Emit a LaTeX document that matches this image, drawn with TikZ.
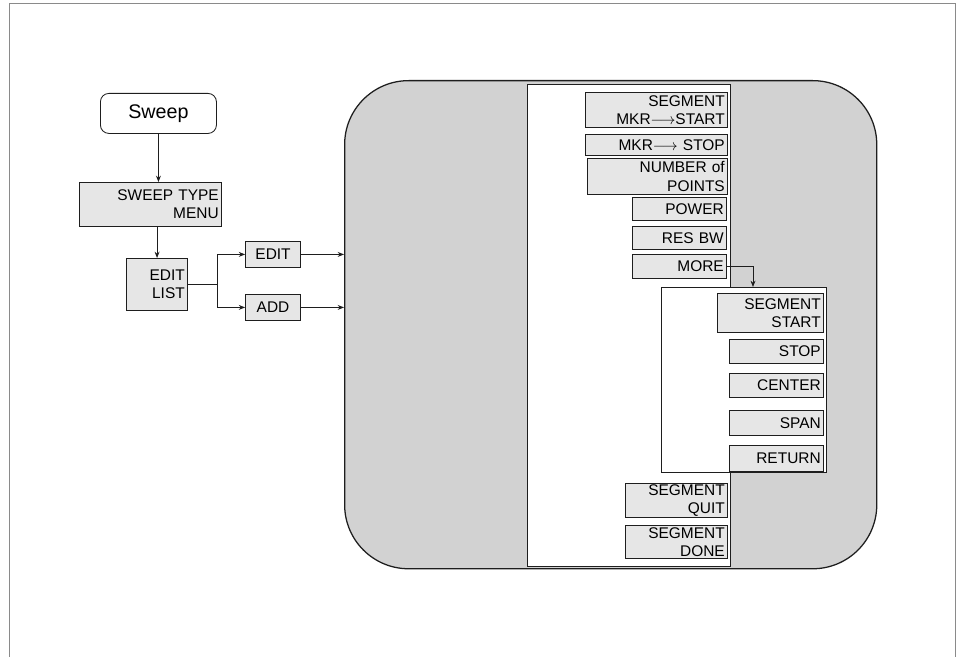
\documentclass[tikz,border=0pt]{standalone}
\usepackage{fontspec}
\setmainfont{Liberation Sans}
\usetikzlibrary{arrows.meta}
\definecolor{sline}{HTML}{1E1E1E}
\definecolor{sframe}{HTML}{8A8A8A}
\definecolor{sshade}{HTML}{D2D2D2}
\definecolor{skey}{HTML}{E6E6E6}

\begin{document}
\begin{tikzpicture}[x=0.025cm, y=-0.025cm, >={Stealth[length=4.5pt,width=3.5pt]},
    line width=0.6pt, font=\fontsize{11}{13}\selectfont,
    key/.style={draw=sline, fill=skey, inner xsep=2pt, inner ysep=0pt, align=right, anchor=north east},
    wire/.style={draw=sline, line width=0.6pt}]
  \useasboundingbox (0,0) rectangle (960,657);

  % page frame
  \draw[sframe, line width=0.5pt] (9,657) -- (9,3) -- (955,3) -- (955,657);

  % left-hand chain
  \node[draw=sline, fill=white, rounded corners=6pt, minimum width=2.9cm, minimum height=1cm,
        anchor=north west, font=\fontsize{14}{16}\selectfont] (sweep) at (100,93) {Sweep};
  \node[key, text width=3.41cm, minimum height=1.1cm] (typemenu) at (222,182) {SWEEP TYPE\\MENU};
  \node[key, text width=1.385cm, minimum height=1.3cm] (editlist) at (188,258) {EDIT\\LIST};
  \node[key, align=center, text width=1.235cm, minimum height=0.65cm] (edit) at (301,241) {EDIT};
  \node[key, align=center, text width=1.235cm, minimum height=0.65cm] (add) at (301,294) {ADD};
  \coordinate (split) at (217,0);

  % the shaded menu area and its white softkey column
  \node[draw=sline, fill=sshade, line width=0.9pt, rounded corners=1.6cm, minimum width=13.3cm,
        minimum height=12.2cm, anchor=north west] (panel) at (344,80) {};
  \node[draw=sline, fill=white, line width=0.5pt, minimum width=5.075cm, minimum height=12.05cm,
        anchor=north west] (column) at (527,84) {};

  % first softkey page
  \node[key, text width=3.41cm, minimum height=0.875cm] (segmkr) at (728,92) {SEGMENT\\MKR$\longrightarrow$START};
  \node[key, text width=3.41cm, minimum height=0.525cm] (mkrstop) at (728,134) {MKR$\longrightarrow$ STOP};
  \node[key, text width=3.36cm, minimum height=0.9cm] (numpts) at (728,158) {NUMBER of\\POINTS};
  \node[key, text width=2.21cm, minimum height=0.575cm] (power) at (727,197) {POWER};
  \node[key, text width=2.21cm, minimum height=0.575cm] (resbw) at (727,226) {RES BW};
  \node[key, text width=2.21cm, minimum height=0.6cm] (more) at (727,254) {MORE};
  \node[key, text width=2.41cm, minimum height=0.85cm] (squit) at (728,483) {SEGMENT\\QUIT};
  \node[key, text width=2.41cm, minimum height=0.825cm] (sdone) at (728,525) {SEGMENT\\DONE};

  % MORE opens the segment page
  \node[draw=sline, fill=white, line width=0.5pt, minimum width=4.125cm, minimum height=4.625cm,
        anchor=north west] (submenu) at (661,287) {};
  \node[key, text width=2.51cm, minimum height=0.975cm] (sstart) at (824,293) {SEGMENT\\START};
  \node[key, text width=2.21cm, minimum height=0.6cm] (sstop) at (824,339) {STOP};
  \node[key, text width=2.21cm, minimum height=0.6cm] (scenter) at (824,373) {CENTER};
  \node[key, text width=2.21cm, minimum height=0.625cm] (sspan) at (824,410) {SPAN};
  \node[key, text width=2.21cm, minimum height=0.65cm] (sreturn) at (824,445) {RETURN};
  \coordinate (moredrop) at (753,0);

  % connectors
  \draw[wire, ->] (sweep.south) -- (sweep.south |- typemenu.north);
  \draw[wire, ->] (editlist.north |- typemenu.south) -- (editlist.north);
  \draw[wire] (editlist.east) -- (split |- editlist.east);
  \draw[wire, ->] (split |- editlist.east) |- (edit.west);
  \draw[wire, ->] (split |- editlist.east) |- (add.west);
  \draw[wire, ->] (edit.east) -- (edit.east -| panel.west);
  \draw[wire, ->] (add.east) -- (add.east -| panel.west);
  \draw[wire, ->] (more.east) -| (moredrop |- submenu.north);
\end{tikzpicture}
\end{document}
